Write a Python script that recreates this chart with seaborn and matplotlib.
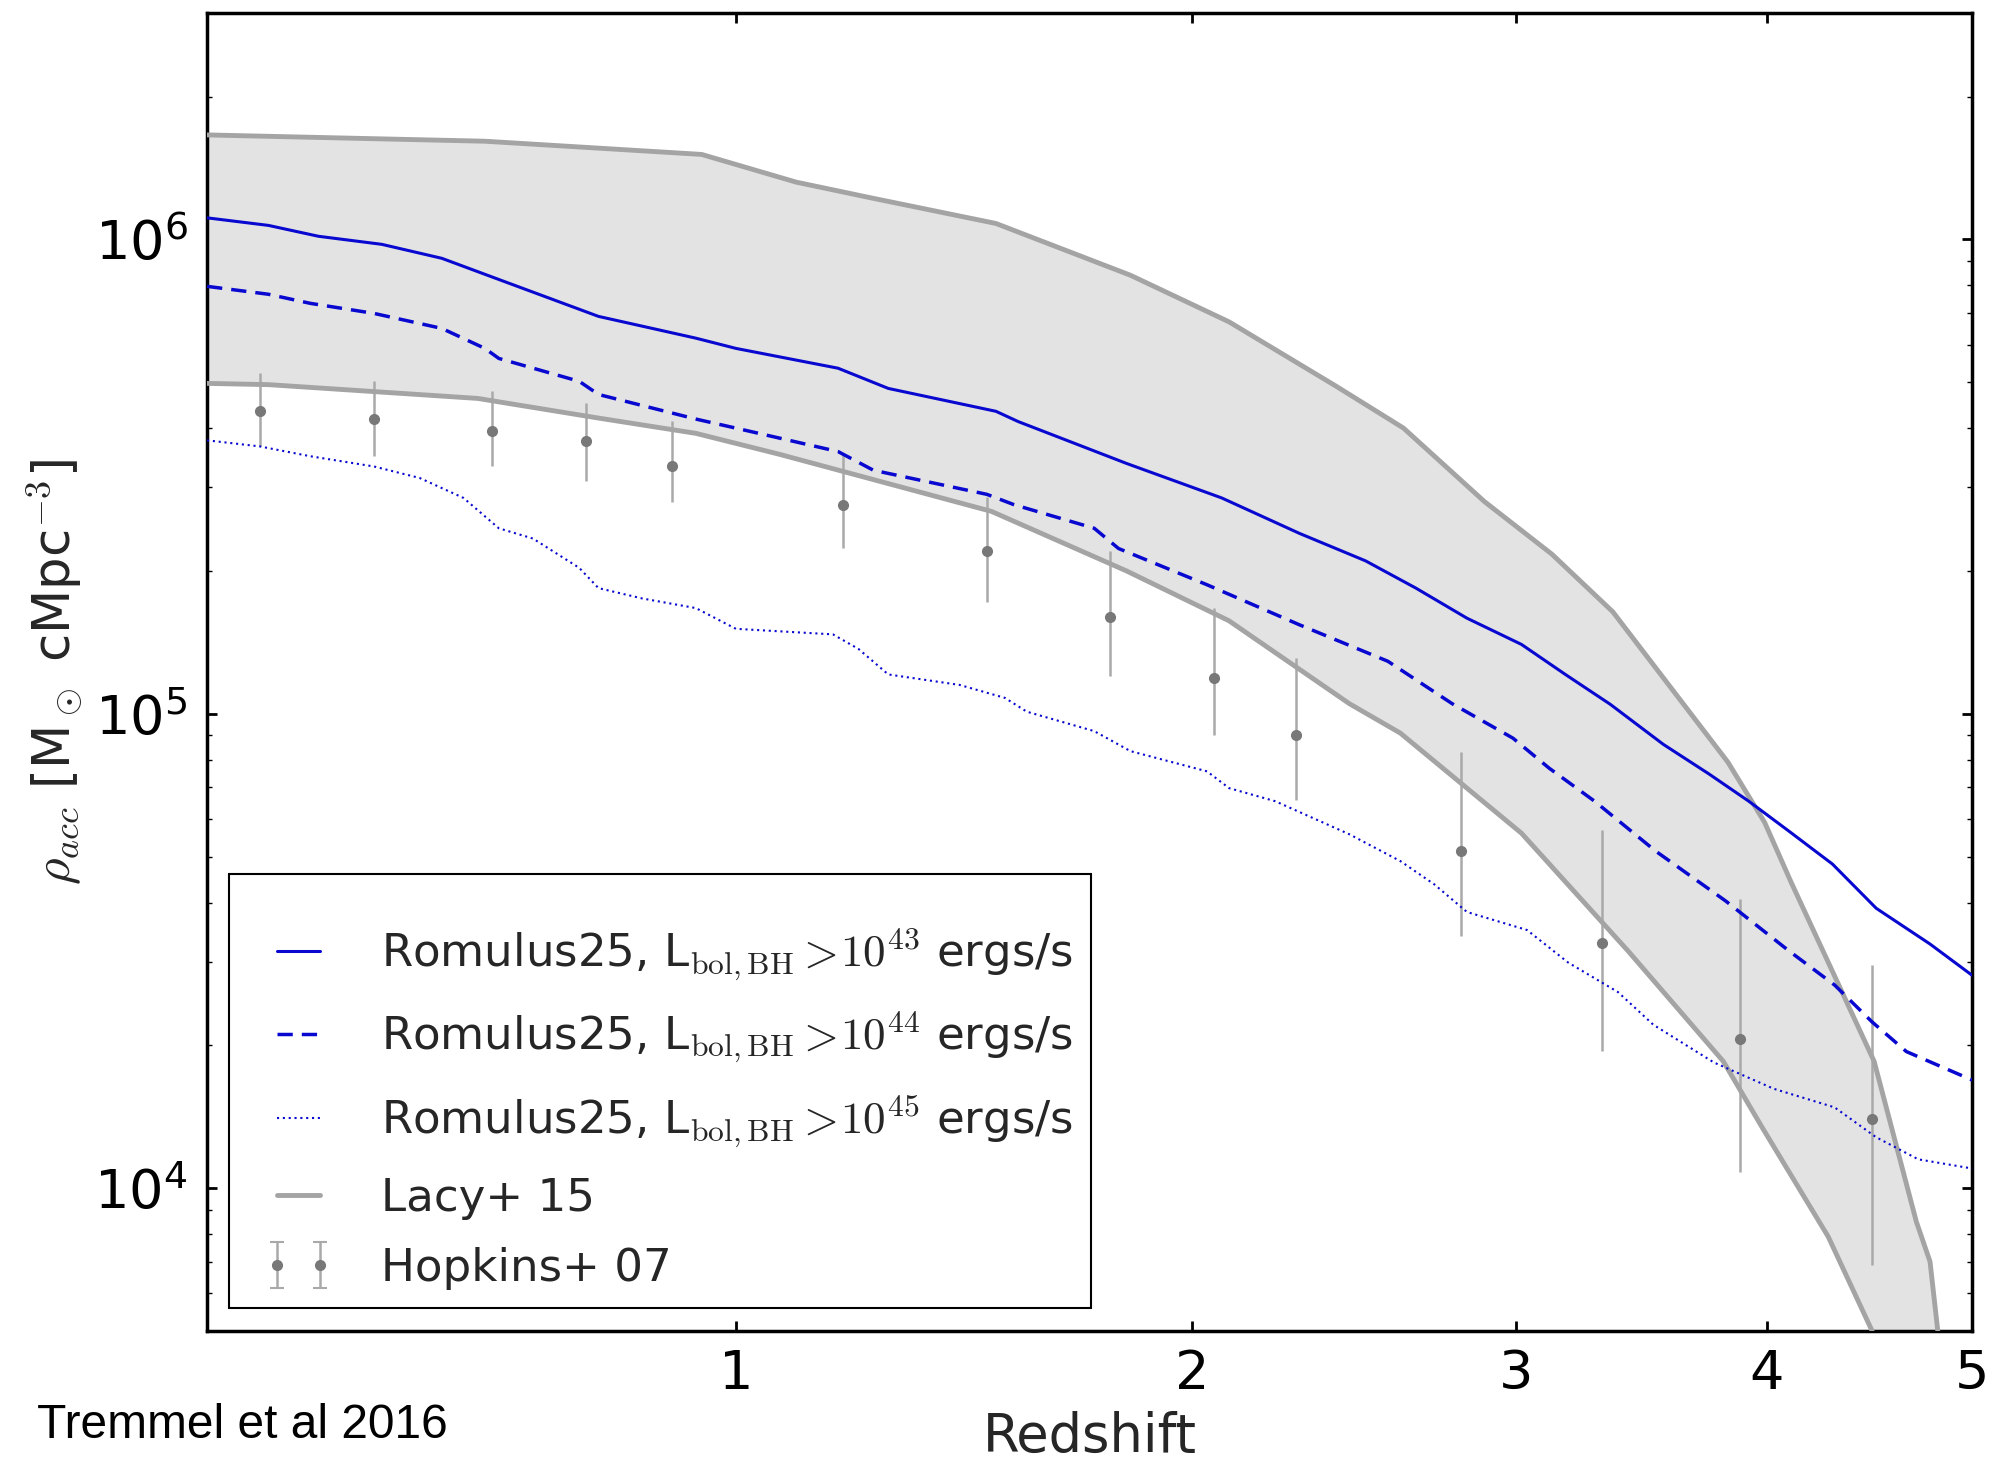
import numpy as np
import pandas as pd
import matplotlib
matplotlib.use("Agg")
import matplotlib.pyplot as plt
import matplotlib.ticker as mticker
from matplotlib.offsetbox import DrawingArea
import seaborn as sns

# ---------------- data ----------------
# Romulus25, L_bol > 1e43 erg/s
z_43 = [0.25, 0.32, 0.38, 0.46, 0.54, 0.62, 0.77, 0.93, 1.00, 1.19, 1.29, 1.52, 1.57, 1.83,
        2.08, 2.30, 2.50, 2.66, 2.83, 3.02, 3.18, 3.35, 3.56, 3.75, 3.92, 4.10, 4.30, 4.51,
        4.78, 5.00]
rho_43 = [1.11e6, 1.07e6, 1.015e6, 9.76e5, 9.12e5, 8.23e5, 6.88e5, 6.19e5, 5.89e5, 5.35e5,
          4.85e5, 4.34e5, 4.13e5, 3.37e5, 2.85e5, 2.40e5, 2.10e5, 1.84e5, 1.59e5, 1.40e5,
          1.21e5, 1.047e5, 8.62e4, 7.46e4, 6.54e4, 5.65e4, 4.82e4, 3.89e4, 3.27e4, 2.81e4]

# Romulus25, L_bol > 1e44 erg/s
z_44 = [0.25, 0.32, 0.37, 0.45, 0.54, 0.60, 0.62, 0.74, 0.77, 0.93, 1.00, 1.19, 1.26, 1.50,
        1.56, 1.75, 1.81, 2.04, 2.30, 2.57, 2.78, 2.99, 3.12, 3.29, 3.53, 3.82, 4.10, 4.31,
        4.49, 4.66, 5.00]
rho_44 = [7.96e5, 7.66e5, 7.33e5, 6.98e5, 6.49e5, 5.89e5, 5.61e5, 5.02e5, 4.71e5, 4.18e5,
          4.00e5, 3.57e5, 3.26e5, 2.90e5, 2.76e5, 2.46e5, 2.23e5, 1.87e5, 1.54e5, 1.29e5,
          1.05e5, 8.88e4, 7.68e4, 6.54e4, 5.13e4, 4.03e4, 3.16e4, 2.68e4, 2.24e4, 1.94e4,
          1.69e4]

# Romulus25, L_bol > 1e45 erg/s
z_45 = [0.25, 0.31, 0.37, 0.45, 0.51, 0.57, 0.62, 0.67, 0.74, 0.77, 0.84, 0.93, 1.00, 1.18,
        1.23, 1.29, 1.44, 1.54, 1.59, 1.75, 1.84, 2.04, 2.10, 2.23, 2.45, 2.61, 2.72, 2.83,
        3.04, 3.19, 3.38, 3.52, 3.77, 4.03, 4.31, 4.51, 4.72, 5.00]
rho_45 = [3.77e5, 3.66e5, 3.49e5, 3.32e5, 3.14e5, 2.85e5, 2.46e5, 2.34e5, 2.03e5, 1.84e5,
          1.75e5, 1.67e5, 1.51e5, 1.47e5, 1.37e5, 1.21e5, 1.15e5, 1.08e5, 1.01e5, 9.19e4,
          8.34e4, 7.56e4, 6.97e4, 6.54e4, 5.57e4, 4.89e4, 4.37e4, 3.82e4, 3.50e4, 2.99e4,
          2.59e4, 2.21e4, 1.84e4, 1.62e4, 1.48e4, 1.28e4, 1.15e4, 1.10e4]

# Lacy+15 band
z_lacy_up = [0.25, 0.60, 0.94, 1.11, 1.26, 1.52, 1.84, 2.10, 2.41, 2.62, 2.89, 3.13, 3.36,
             3.83, 3.99, 4.11, 4.31, 4.50, 4.71, 4.78, 4.82]
rho_lacy_up = [1.66e6, 1.61e6, 1.51e6, 1.32e6, 1.22e6, 1.08e6, 8.4e5, 6.7e5, 4.9e5, 4.0e5,
               2.8e5, 2.17e5, 1.64e5, 7.9e4, 5.9e4, 4.4e4, 2.8e4, 1.85e4, 8.5e3, 7.0e3, 5.0e3]
z_lacy_lo = [0.25, 0.32, 0.59, 0.77, 0.93, 1.08, 1.51, 1.83, 2.10, 2.45, 2.61, 3.02, 3.42,
             3.81, 3.98, 4.28, 4.49]
rho_lacy_lo = [4.97e5, 4.94e5, 4.62e5, 4.20e5, 3.90e5, 3.52e5, 2.67e5, 2.00e5, 1.57e5,
               1.05e5, 9.1e4, 5.6e4, 3.16e4, 1.85e4, 1.34e4, 7.9e3, 5.0e3]

# Hopkins+07 points
z_hop = [0.31, 0.45, 0.61, 0.75, 0.89, 1.20, 1.50, 1.79, 2.06, 2.29, 2.81, 3.32, 3.88, 4.49]
rho_hop = [4.35e5, 4.19e5, 3.94e5, 3.75e5, 3.33e5, 2.75e5, 2.20e5, 1.60e5, 1.19e5, 9.0e4,
           5.13e4, 3.29e4, 2.06e4, 1.40e4]
rho_hop_hi = [5.23e5, 5.04e5, 4.80e5, 4.51e5, 4.14e5, 3.55e5, 2.86e5, 2.20e5, 1.67e5, 1.31e5,
              8.3e4, 5.70e4, 4.06e4, 2.96e4]
rho_hop_lo = [3.66e5, 3.50e5, 3.33e5, 3.09e5, 2.79e5, 2.24e5, 1.72e5, 1.20e5, 9.0e4, 6.57e4,
              3.40e4, 1.95e4, 1.08e4, 6.9e3]

x_ticks = [1, 2, 3, 4, 5]
x_ticklabels = ["1", "2", "3", "4", "5"]

labels_rom = [r"Romulus25, L$_{\rm bol,BH}$$>\!10^{43}$ ergs/s",
              r"Romulus25, L$_{\rm bol,BH}$$>\!10^{44}$ ergs/s",
              r"Romulus25, L$_{\rm bol,BH}$$>\!10^{45}$ ergs/s"]

# ---------------- style ----------------
sns.set_style("ticks")
plt.rcParams["font.family"] = ["DejaVu Sans"]
plt.rcParams["mathtext.fontset"] = "cm"
plt.rcParams["axes.linewidth"] = 2.5

fig = plt.figure(figsize=(19.95, 14.6), dpi=100)
ax = fig.add_axes([0.1038, 0.0884, 0.8847, 0.9027])

band_color = "#e3e3e3"
lacy_color = "#a4a4a4"
blue = "#0808d0"
hop_marker = "#787878"
hop_err = "#a9a9a9"

# band
ax.fill(np.r_[z_lacy_up, z_lacy_lo[::-1]], np.r_[rho_lacy_up, rho_lacy_lo[::-1]],
        color=band_color, lw=0, zorder=1)

# Hopkins
yerr = [np.array(rho_hop) - np.array(rho_hop_lo), np.array(rho_hop_hi) - np.array(rho_hop)]
hop = ax.errorbar(z_hop, rho_hop, yerr=yerr, fmt="o", ms=7, color=hop_marker,
                  mec=hop_marker, ecolor=hop_err, elinewidth=1.8, capsize=0, zorder=3)
# legend-only proxy (with small caps, as drawn in the reference legend)
hop_proxy = ax.errorbar([np.nan], [np.nan], yerr=[[1.0], [1.0]], fmt="o", ms=7,
                        color=hop_marker, mec=hop_marker, ecolor=hop_err,
                        elinewidth=1.8, capsize=5, capthick=1.5)

# Lacy lines
sns.lineplot(x=z_lacy_up, y=rho_lacy_up, ax=ax, color=lacy_color, lw=3.5, zorder=4,
             sort=False, estimator=None, label="Lacy+ 15")
sns.lineplot(x=z_lacy_lo, y=rho_lacy_lo, ax=ax, color=lacy_color, lw=3.5, zorder=4,
             sort=False, estimator=None)

# Romulus lines
df43 = pd.DataFrame({"z": z_43, "rho": rho_43})
df44 = pd.DataFrame({"z": z_44, "rho": rho_44})
df45 = pd.DataFrame({"z": z_45, "rho": rho_45})
sns.lineplot(data=df43, x="z", y="rho", ax=ax, color=blue, lw=2.2, zorder=5,
             estimator=None, sort=False, label=labels_rom[0])
sns.lineplot(data=df44, x="z", y="rho", ax=ax, color=blue, lw=2.5, zorder=5,
             estimator=None, sort=False, linestyle=(0, (4.4, 2.6)), label=labels_rom[1])
sns.lineplot(data=df45, x="z", y="rho", ax=ax, color=blue, lw=1.5, zorder=5,
             estimator=None, sort=False, linestyle=(0, (1, 1.8)), label=labels_rom[2])

# scales
ax.set_xscale("function", functions=(lambda z: np.log10(1 + np.asarray(z)),
                                     lambda t: 10 ** np.asarray(t) - 1))
ax.set_yscale("log")
ax.set_xlim(0.25, 5.0)
ax.set_ylim(5e3, 3e6)

ax.xaxis.set_major_locator(mticker.FixedLocator(x_ticks))
ax.xaxis.set_major_formatter(mticker.FixedFormatter(x_ticklabels))
ax.xaxis.set_minor_locator(mticker.NullLocator())
ax.yaxis.set_major_locator(mticker.LogLocator(base=10, numticks=10))
ax.yaxis.set_minor_locator(mticker.LogLocator(base=10, subs=np.arange(2, 10), numticks=20))
ax.yaxis.set_minor_formatter(mticker.NullFormatter())

ax.tick_params(which="both", direction="in", top=True, right=True, colors="black")
ax.tick_params(which="major", length=7, width=2, labelsize=39)
ax.tick_params(which="minor", length=3.5, width=1)
ax.tick_params(axis="x", which="major", pad=12)
ax.tick_params(axis="y", which="major", pad=14)
for s in ax.spines.values():
    s.set_color("black")
    s.set_linewidth(2.5)

ax.set_xlabel("Redshift", fontsize=38, labelpad=8)
ax.set_ylabel(r"$\rho_{acc}$ [M$_\odot$ cMpc$^{-3}$]", fontsize=37, labelpad=7)

# legend
h, l = ax.get_legend_handles_labels()
hd = dict(zip(l, h))
handles = [hd[k] for k in labels_rom] + [hd["Lacy+ 15"], hop_proxy]
names = labels_rom + ["Lacy+ 15", "Hopkins+ 07"]
leg = ax.legend(handles, names, loc="lower left",
                bbox_to_anchor=(0.0125, 0.0175), borderaxespad=0, fontsize=32.5,
                frameon=True, fancybox=False, edgecolor="black", framealpha=1,
                handlelength=1.55, handletextpad=1.05, borderpad=0.4, labelspacing=0.6,
                numpoints=2)
leg.get_frame().set_linewidth(1.5)
leg.set_zorder(10)
# extra left / top padding inside the legend frame (as in the reference)
try:
    hbox = leg._legend_handle_box
    hbox.sep = 0
    sp_left = DrawingArea(11.5, 0)
    sp_left.set_figure(fig)
    hbox._children.insert(0, sp_left)
    sp_top = DrawingArea(0, 4.5)
    sp_top.set_figure(fig)
    leg._legend_box._children.insert(0, sp_top)
except Exception:
    pass

fig.text(37 / 1995, (1460 - 1438) / 1460, "Tremmel et al 2016", family="Liberation Sans",
         fontsize=34.5, va="baseline", ha="left", color="black")

fig.savefig("out.png", dpi=100, facecolor="white")
